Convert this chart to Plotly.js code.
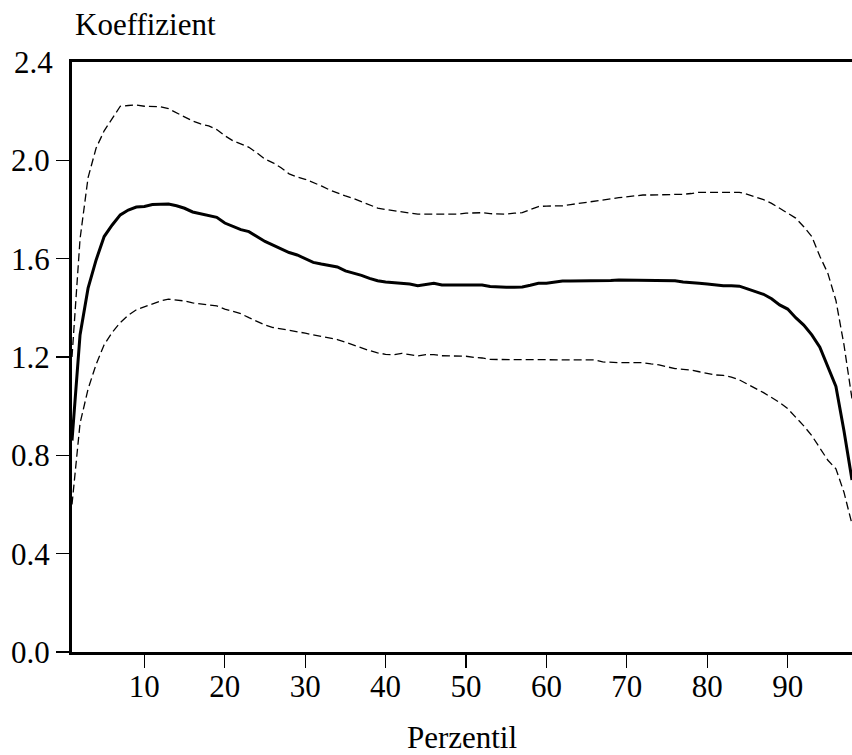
<!DOCTYPE html>
<html>
<head>
<meta charset="utf-8">
<script src="https://cdn.plot.ly/plotly-3.0.1.min.js"></script>
<style>
  html, body { margin: 0; padding: 0; background: #fff; overflow: hidden; }
  #chart { width: 852px; height: 755px; }
</style>
</head>
<body>
<div id="chart"></div>
<script>
// Percentiles
const perzentil = [];
for (let p = 1; p <= 98; p++) perzentil.push(p);

// Coefficient estimate (solid line)
const koeffizient = [
  0.86, 1.29, 1.48, 1.595, 1.69, 1.737, 1.778, 1.798, 1.81, 1.812,
  1.82, 1.822, 1.822, 1.815, 1.805, 1.79, 1.782, 1.775, 1.768, 1.745,
  1.73, 1.718, 1.71, 1.69, 1.67, 1.655, 1.64, 1.625, 1.615, 1.60,
  1.585, 1.578, 1.572, 1.566, 1.55, 1.542, 1.532, 1.52, 1.51, 1.505,
  1.503, 1.502, 1.497, 1.49, 1.495, 1.50, 1.493, 1.493, 1.493, 1.493,
  1.493, 1.493, 1.487, 1.484, 1.484, 1.484, 1.485, 1.492, 1.50, 1.50,
  1.505, 1.509, 1.509, 1.509, 1.509, 1.509, 1.509, 1.511, 1.513, 1.513,
  1.513, 1.513, 1.513, 1.513, 1.513, 1.51, 1.505, 1.504, 1.50, 1.497,
  1.492, 1.49, 1.49, 1.488, 1.477, 1.465, 1.455, 1.437, 1.412, 1.395,
  1.36, 1.33, 1.29, 1.24, 1.16, 1.08, 0.90, 0.70
];

// Upper confidence band (dashed)
const obereGrenze = [
  1.2, 1.68, 1.93, 2.05, 2.12, 2.17, 2.22, 2.223, 2.225, 2.22,
  2.218, 2.218, 2.21, 2.193, 2.177, 2.16, 2.148, 2.14, 2.125, 2.10,
  2.08, 2.065, 2.053, 2.03, 2.005, 1.99, 1.97, 1.945, 1.932, 1.923,
  1.91, 1.896, 1.88, 1.866, 1.855, 1.845, 1.832, 1.818, 1.806, 1.80,
  1.796, 1.79, 1.785, 1.781, 1.781, 1.781, 1.781, 1.781, 1.781, 1.785,
  1.787, 1.787, 1.783, 1.781, 1.781, 1.785, 1.787, 1.80, 1.812, 1.814,
  1.814, 1.815, 1.82, 1.824, 1.83, 1.835, 1.838, 1.843, 1.848, 1.852,
  1.855, 1.859, 1.859, 1.859, 1.859, 1.859, 1.862, 1.865, 1.87, 1.87,
  1.87, 1.87, 1.87, 1.87, 1.862, 1.852, 1.84, 1.825, 1.805, 1.788,
  1.765, 1.73, 1.69, 1.61, 1.54, 1.43, 1.25, 1.03
];

// Lower confidence band (dashed)
const untereGrenze = [
  0.6, 0.93, 1.07, 1.17, 1.25, 1.30, 1.34, 1.37, 1.392, 1.405,
  1.418, 1.428, 1.435, 1.432, 1.428, 1.42, 1.415, 1.41, 1.408, 1.395,
  1.384, 1.376, 1.36, 1.345, 1.33, 1.32, 1.315, 1.31, 1.303, 1.297,
  1.29, 1.284, 1.278, 1.271, 1.26, 1.248, 1.237, 1.226, 1.217, 1.211,
  1.209, 1.215, 1.21, 1.204, 1.21, 1.21, 1.205, 1.205, 1.205, 1.203,
  1.198, 1.196, 1.19, 1.19, 1.19, 1.19, 1.19, 1.19, 1.19, 1.19,
  1.19, 1.19, 1.19, 1.19, 1.19, 1.188, 1.18, 1.177, 1.177, 1.177,
  1.177, 1.177, 1.172, 1.168, 1.16, 1.153, 1.15, 1.147, 1.14, 1.132,
  1.127, 1.125, 1.118, 1.107, 1.09, 1.073, 1.055, 1.035, 1.015, 0.99,
  0.955, 0.92, 0.88, 0.83, 0.78, 0.745, 0.65, 0.52
];

const xTickVals = [10, 20, 30, 40, 50, 60, 70, 80, 90];
const yTickVals = [0.0, 0.4, 0.8, 1.2, 1.6, 2.0];
const yTickText = ['0.0', '0.4', '0.8', '1.2', '1.6', '2.0'];
const yTopVal = 2.4;
const yTopText = '2.4';

const FONT = "'Liberation Serif', 'Times New Roman', serif";
const FS = 31;

const traces = [
  { x: perzentil, y: obereGrenze, type: 'scatter', mode: 'lines',
    line: { color: '#000', width: 1.3, dash: '8px,4px' }, hoverinfo: 'skip' },
  { x: perzentil, y: untereGrenze, type: 'scatter', mode: 'lines',
    line: { color: '#000', width: 1.3, dash: '8px,4px' }, hoverinfo: 'skip' },
  { x: perzentil, y: koeffizient, type: 'scatter', mode: 'lines',
    line: { color: '#000', width: 3 }, hoverinfo: 'skip' }
];

const layout = {
  width: 852, height: 755,
  margin: { l: 72, r: 0, t: 62, b: 103, pad: 0 },
  paper_bgcolor: '#fff', plot_bgcolor: '#fff',
  showlegend: false,
  font: { family: FONT, size: FS, color: '#000' },
  title: { text: 'Koeffizient', x: 75 / 852, xanchor: 'left', xref: 'container',
           y: 1 - 24 / 755, yanchor: 'middle', yref: 'container',
           font: { family: FONT, size: FS, color: '#000' } },
  xaxis: {
    range: [1, 98], tickvals: xTickVals, ticks: 'outside', ticklen: 13, tickwidth: 1.3,
    tickcolor: '#000', showline: true, linecolor: '#000', linewidth: 3, mirror: true,
    showgrid: false, zeroline: false, ticklabelstandoff: -8,
    tickfont: { family: FONT, size: FS, color: '#000' },
    title: { text: 'Perzentil', standoff: 46, font: { family: FONT, size: FS, color: '#000' } }
  },
  yaxis: {
    range: [0, 2.4], tickvals: yTickVals, ticktext: yTickText, ticks: 'outside', ticklen: 13,
    tickwidth: 1.3, tickcolor: '#000', showline: true, linecolor: '#000', linewidth: 3,
    showgrid: false, zeroline: false,
    tickfont: { family: FONT, size: FS, color: '#000' }
  },
  annotations: [{
    text: yTopText, xref: 'paper', x: 0, yref: 'y', y: yTopVal,
    xanchor: 'right', yanchor: 'middle', xshift: -17, showarrow: false,
    font: { family: FONT, size: FS, color: '#000' }
  }]
};

Plotly.newPlot('chart', traces, layout, { staticPlot: true, displayModeBar: false });
</script>
</body>
</html>
